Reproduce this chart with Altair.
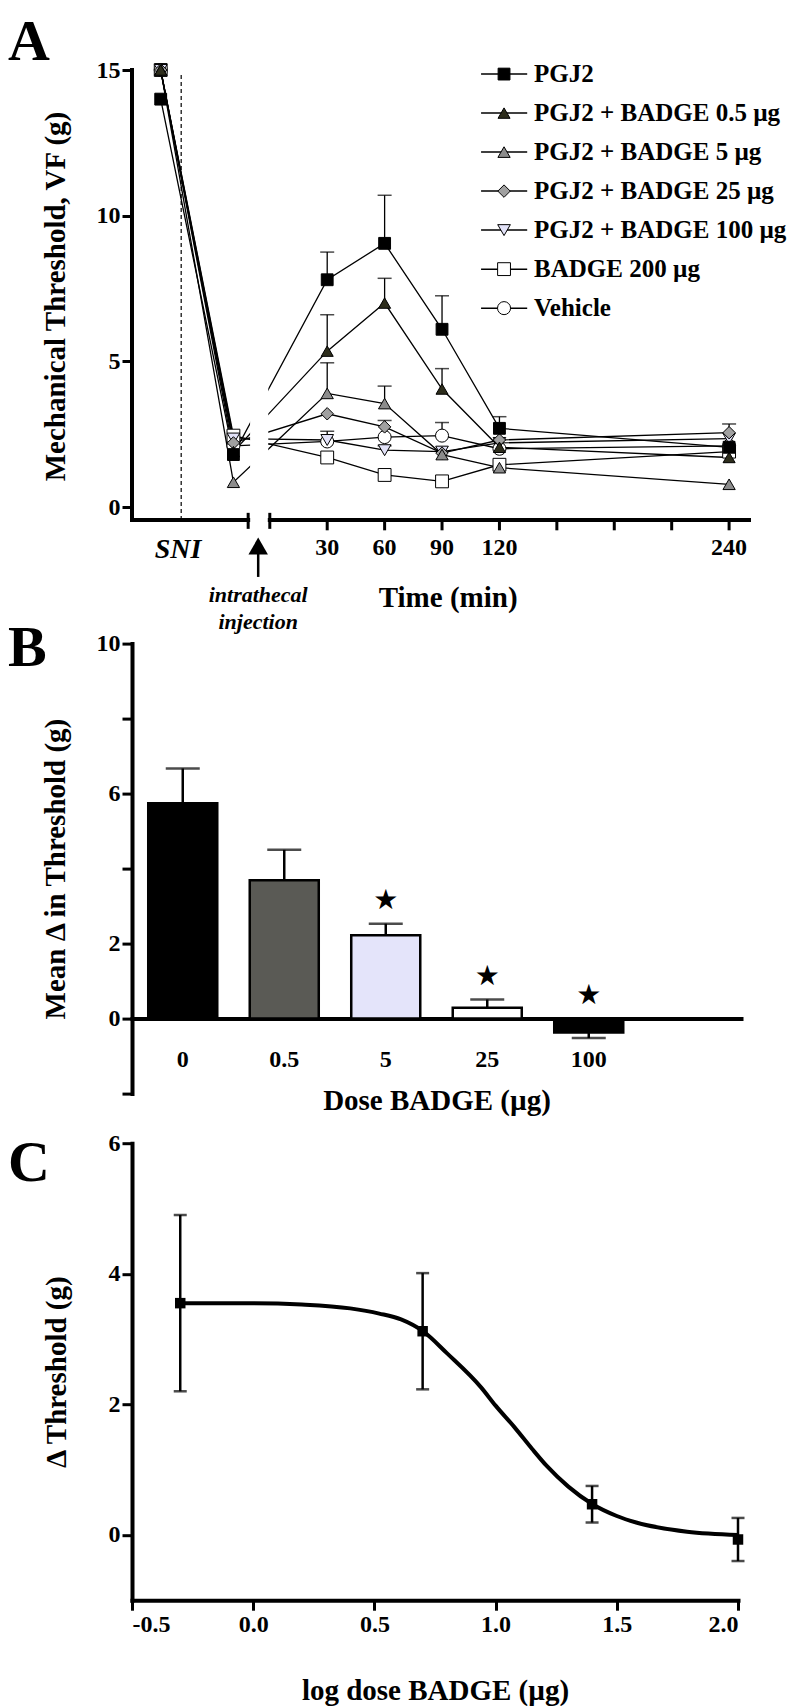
import altair as alt
import pandas as pd

FONT = "Liberation Serif"

# ---------------- Panel A : time course ----------------
series_names = ["PGJ2", "PGJ2 + BADGE 0.5 µg", "PGJ2 + BADGE 5 µg", "PGJ2 + BADGE 25 µg",
                "PGJ2 + BADGE 100 µg", "BADGE 200 µg", "Vehicle"]
series_shapes = ["square", "triangle-up", "triangle-up", "diamond", "triangle-down", "square", "circle"]
series_fills = ["#000000", "#2d2d1c", "#8c8c8c", "#a0a0a0", "#e2e2f8", "#ffffff", "#ffffff"]
series_sizes = [140, 170, 170, 180, 170, 140, 130]

# baseline and post-SNI readings sit on the left part of the broken time axis
time_pos = [-57, -19, 30, 60, 90, 120, 240]
tick_times = [30, 60, 90, 120, 150, 180, 210, 240]
tick_labels = [30, 60, 90, 120, 240]

pgj2 = [14.0, 1.8, 7.8, 9.05, 6.1, 2.7, 2.05]
pgj2_sem = [0, 0, 0.95, 1.65, 1.15, 0.4, 0]
badge05 = [15.0, 1.9, 5.35, 7.0, 4.05, 2.05, 1.7]
badge05_sem = [0, 0, 1.25, 0.85, 0.7, 0, 0]
badge5 = [15.0, 0.85, 3.9, 3.55, 1.8, 1.35, 0.78]
badge5_sem = [0, 0, 1.05, 0.6, 0, 0, 0]
badge25 = [15.0, 2.2, 3.2, 2.75, 1.85, 2.3, 2.55]
badge25_sem = [0, 0, 0, 0.22, 0, 0, 0.3]
badge100 = [15.0, 2.35, 2.3, 1.95, 1.9, 2.2, 2.35]
badge100_sem = [0, 0, 0.3, 0.15, 0, 0, 0]
badge200 = [15.0, 2.45, 1.7, 1.1, 0.88, 1.45, 1.9]
badge200_sem = [0, 0, 0, 0, 0, 0, 0]
vehicle = [15.0, 2.1, 2.25, 2.4, 2.45, 2.0, 2.1]
vehicle_sem = [0, 0, 0, 0, 0.45, 0, 0]

# ---------------- Panel B : mean change ----------------
doses_b = ["0", "0.5", "5", "25", "100"]
means_b = [5.74, 3.69, 2.22, 0.29, -0.37]
sems_b = [0.93, 0.81, 0.31, 0.22, 0.15]
sig_b = [False, False, True, True, True]
colors_b = ["#000000", "#5a5a55", "#e4e4fa", "#ffffff", "#000000"]

# ---------------- Panel C : dose response ----------------
log_dose = [-0.301, 0.699, 1.398, 2.0]
delta_c = [3.55, 3.12, 0.47, -0.07]
sem_c = [1.35, 0.89, 0.28, 0.33]
curve_x = [-0.3, 0.0, 0.2, 0.4, 0.52, 0.61, 0.7, 0.8, 0.94, 1.0, 1.08, 1.15, 1.21, 1.3, 1.4, 1.5, 1.58, 1.79, 2.0]
curve_y = [3.55, 3.55, 3.53, 3.47, 3.39, 3.30, 3.12, 2.78, 2.26, 1.98, 1.64, 1.32, 1.06, 0.74, 0.47, 0.29,
           0.19, 0.05, 0.0]

# =====================================================
means_a = [pgj2, badge05, badge5, badge25, badge100, badge200, vehicle]
sems_a = [pgj2_sem, badge05_sem, badge5_sem, badge25_sem, badge100_sem, badge200_sem, vehicle_sem]

rows = []
for k in reversed(range(len(series_names))):
    for j, t in enumerate(time_pos):
        rows.append({"series": series_names[k], "t": t, "v": means_a[k][j],
                     "sem": sems_a[k][j], "hi": means_a[k][j] + sems_a[k][j]})
df_a = pd.DataFrame(rows)

XS_A = alt.Scale(domain=[-72, 250.4], nice=False, zero=False)
YS_A = alt.Scale(domain=[-2.955, 15], nice=False, zero=False)
ya_axis = alt.Axis(values=[0, 5, 10, 15], domain=False, title="Mechanical Threshold, VF (g)",
                   titleY=226, titlePadding=26)


def xa(f):
    return alt.X(f, type="quantitative", scale=XS_A, axis=None)


def ya(f):
    return alt.Y(f, type="quantitative", scale=YS_A, axis=ya_axis)


shape_enc = alt.Shape("series:N", scale=alt.Scale(domain=series_names, range=series_shapes), legend=None)
fill_enc = alt.Fill("series:N", scale=alt.Scale(domain=series_names, range=series_fills), legend=None)
size_enc = alt.Size("series:N", scale=alt.Scale(domain=series_names, range=series_sizes), legend=None)

base_a = alt.Chart(df_a)
lines_a = base_a.mark_line(color="black", strokeWidth=1.3).encode(
    x=xa("t"), y=ya("v"), detail="series:N", order="t:Q")
sni_df = pd.DataFrame({"t": [-46.3], "y1": [-0.446], "y2": [14.83]})
sni_line = alt.Chart(sni_df).mark_rule(color="black", strokeWidth=1.2, strokeDash=[4, 3]).encode(
    x=xa("t"), y=ya("y1"), y2="y2")
mask_df = pd.DataFrame({"x1": [-10.3], "x2": [-0.8], "y1": [0.3], "y2": [5.6]})
mask = alt.Chart(mask_df).mark_rect(color="white").encode(x=xa("x1"), x2="x2", y=ya("y1"), y2="y2")
err_a = base_a.transform_filter("datum.sem > 0").mark_rule(color="black", strokeWidth=1.3).encode(
    x=xa("t"), y=ya("v"), y2="hi")
cap_a = base_a.transform_filter("datum.sem > 0").mark_point(
    shape="stroke", size=196, color="black", strokeWidth=1.5, filled=False).encode(x=xa("t"), y=ya("hi"))
pts_a = base_a.mark_point(filled=True, stroke="black", strokeWidth=1, opacity=1).encode(
    x=xa("t"), y=ya("v"), shape=shape_enc, fill=fill_enc, size=size_enc)

axis_df = pd.DataFrame({
    "x1": [-72, -72, 0], "x2": [-72, -11.3, 250.4],
    "y1": [-0.446, -0.446, -0.446], "y2": [15, -0.446, -0.446]})
axis_lines = alt.Chart(axis_df).mark_rule(color="black", strokeWidth=4, strokeCap="square").encode(
    x=xa("x1"), x2="x2", y=ya("y1"), y2="y2")
brk_df = pd.DataFrame({"x": [-11.3, 0], "y1": [-0.2, -0.2], "y2": [-0.75, -0.75]})
brk = alt.Chart(brk_df).mark_rule(color="black", strokeWidth=3).encode(x=xa("x"), y=ya("y1"), y2="y2")
tick_df = pd.DataFrame({"x": tick_times})
ticks_a = alt.Chart(tick_df).transform_calculate(y1="-0.446", y2="-0.8").mark_rule(
    color="black", strokeWidth=3).encode(x=xa("x"), y=ya("y1:Q"), y2="y2:Q")
tl_df = pd.DataFrame({"x": tick_labels, "lab": [str(v) for v in tick_labels]})
tick_text = alt.Chart(tl_df).transform_calculate(y="-1.41").mark_text(
    font=FONT, fontWeight="bold", fontSize=24, baseline="middle", color="black").encode(
    x=xa("x"), y=ya("y:Q"), text="lab:N")

ann_df = pd.DataFrame({"x": [-47.9], "y": [-1.48], "txt": ["SNI"]})
sni_text = alt.Chart(ann_df).mark_text(font=FONT, fontWeight="bold", fontStyle="italic", fontSize=28,
                                       color="black").encode(x=xa("x"), y=ya("y"), text="txt:N")
inj_df = pd.DataFrame({"x": [-6.06, -6.06], "y": [-3.02, -3.95], "txt": ["intrathecal", "injection"]})
inj_text = alt.Chart(inj_df).mark_text(font=FONT, fontWeight="bold", fontStyle="italic", fontSize=22,
                                       color="black").encode(x=xa("x"), y=ya("y"), text="txt:N")
arrow_df = pd.DataFrame({"x": [-6.06], "y1": [-1.5], "y2": [-2.4], "yh": [-1.34]})
arrow_stem = alt.Chart(arrow_df).mark_rule(color="black", strokeWidth=2.5).encode(
    x=xa("x"), y=ya("y1"), y2="y2")
arrow_head = alt.Chart(arrow_df).mark_point(shape="triangle-up", size=380, filled=True, color="black",
                                            opacity=1).encode(x=xa("x"), y=ya("yh"))
time_df = pd.DataFrame({"x": [93.2], "y": [-3.12], "txt": ["Time (min)"]})
time_text = alt.Chart(time_df).mark_text(font=FONT, fontWeight="bold", fontSize=29, color="black").encode(
    x=xa("x"), y=ya("y"), text="txt:N")

leg_df = pd.DataFrame({"series": series_names,
                       "y": [14.86 - 1.339 * i for i in range(len(series_names))]})
leg_base = alt.Chart(leg_df).transform_calculate(xl="110.4", xr="134.5", xs="122.4", xt="138.1")
leg_lines = leg_base.mark_rule(color="black", strokeWidth=1.5).encode(x=xa("xl:Q"), x2="xr:Q", y=ya("y"))
leg_pts = leg_base.mark_point(filled=True, stroke="black", strokeWidth=1, opacity=1).encode(
    x=xa("xs:Q"), y=ya("y"), shape=shape_enc, fill=fill_enc, size=size_enc)
leg_text = leg_base.mark_text(font=FONT, fontWeight="bold", fontSize=25, align="left", baseline="middle",
                              color="black").encode(x=xa("xt:Q"), y=ya("y"), text="series:N")

letter_a = alt.Chart(pd.DataFrame({"l": ["A"]})).mark_text(
    font=FONT, fontWeight="bold", fontSize=58, align="left", baseline="top", color="black").encode(
    x=alt.value(-124), y=alt.value(-56), text="l:N")

panel_a = alt.layer(sni_line, lines_a, mask, err_a, cap_a, pts_a, axis_lines, brk, ticks_a, tick_text,
                    sni_text, inj_text, arrow_stem, arrow_head, time_text,
                    leg_lines, leg_pts, leg_text, letter_a).properties(width=617, height=523.1)

# ---------------- Panel B ----------------
df_b = pd.DataFrame({"dose": doses_b, "mean": means_b, "sem": sems_b, "sig": sig_b})
YS_B = alt.Scale(domain=[-2, 10], nice=False, zero=False)
xb = alt.X("dose:N", scale=alt.Scale(domain=doses_b + [" "], paddingInner=0.32, paddingOuter=0.16),
           axis=alt.Axis(orient="bottom", offset=-75, ticks=False, tickSize=0, labelAngle=0,
                         labelPadding=29, labelOverlap=False, title="Dose BADGE (µg)", titlePadding=15))
yb = alt.Y("mean:Q", scale=YS_B,
           axis=alt.Axis(values=[-2, 0, 2, 4, 6, 8, 10], title="Mean Δ in Threshold (g)", titlePadding=26,
                         labelExpr="(datum.value == 0 || datum.value == 2 || datum.value == 6 || datum.value == 10) ? datum.label : ''"))
base_b = alt.Chart(df_b).transform_calculate(
    end="datum.mean >= 0 ? datum.mean + datum.sem : datum.mean - datum.sem",
    star="(datum.mean >= 0 ? datum.mean + datum.sem : 0) + 0.6")
err_b = base_b.mark_rule(color="black", strokeWidth=2.5).encode(x=xb, y=yb, y2="end:Q")
cap_b = base_b.mark_tick(color="black", thickness=2.5, size=34).encode(
    x=xb, y=alt.Y("end:Q", scale=YS_B))
bars_b = base_b.mark_bar(stroke="black", strokeWidth=2.5).encode(
    x=xb, y=yb, fill=alt.Fill("dose:N", scale=alt.Scale(domain=doses_b, range=colors_b), legend=None))
stars_b = base_b.transform_filter("datum.sig").mark_text(
    text="★", font="DejaVu Sans", fontSize=28, baseline="middle", color="black").encode(
    x=xb, y=alt.Y("star:Q", scale=YS_B))
letter_b = alt.Chart(pd.DataFrame({"l": ["B"]})).mark_text(
    font=FONT, fontWeight="bold", fontSize=58, align="left", baseline="top", color="black").encode(
    x=alt.value(-124), y=alt.value(-24), text="l:N")
panel_b = alt.layer(err_b, cap_b, bars_b, stars_b, letter_b).properties(width=609, height=450)

# ---------------- Panel C ----------------
df_c = pd.DataFrame({"x": log_dose, "y": delta_c, "sem": sem_c})
df_curve = pd.DataFrame({"x": curve_x, "y": curve_y})
XS_C = alt.Scale(domain=[-0.5, 2.0], nice=False, zero=False)
YS_C = alt.Scale(domain=[-1, 6], nice=False, zero=False)
xc_axis = alt.Axis(values=[-0.5, 0, 0.5, 1, 1.5, 2], title="log dose BADGE  (µg)", titlePadding=40,
                   labelExpr="replace(format(datum.value, '.1f'), '\u2212', '-')")
yc_axis = alt.Axis(values=[0, 2, 4, 6], format=".0f", title="Δ Threshold (g)", titlePadding=37)
xc = alt.X("x:Q", scale=XS_C, axis=xc_axis)
yc = alt.Y("y:Q", scale=YS_C, axis=yc_axis)
curve_c = alt.Chart(df_curve).mark_line(color="black", strokeWidth=4, interpolate="monotone").encode(x=xc, y=yc)
base_c = alt.Chart(df_c).transform_calculate(lo="datum.y - datum.sem", hi="datum.y + datum.sem")
err_c = base_c.mark_rule(color="black", strokeWidth=2.5).encode(x=xc, y=alt.Y("lo:Q", scale=YS_C), y2="hi:Q")
cap_lo = base_c.mark_point(shape="stroke", size=169, color="black", strokeWidth=2.5, filled=False).encode(
    x=xc, y=alt.Y("lo:Q", scale=YS_C))
cap_hi = base_c.mark_point(shape="stroke", size=169, color="black", strokeWidth=2.5, filled=False).encode(
    x=xc, y=alt.Y("hi:Q", scale=YS_C))
pts_c = base_c.mark_point(shape="square", size=110, filled=True, color="black", opacity=1).encode(x=xc, y=yc)
letter_c = alt.Chart(pd.DataFrame({"l": ["C"]})).mark_text(
    font=FONT, fontWeight="bold", fontSize=58, align="left", baseline="top", color="black").encode(
    x=alt.value(-124), y=alt.value(-8), text="l:N")
panel_c = alt.layer(curve_c, err_c, cap_lo, cap_hi, pts_c, letter_c).properties(width=606, height=457)

chart = alt.vconcat(
    panel_a, panel_b, panel_c, spacing=49.6, bounds="flush",
    padding={"top": 6, "left": 0, "right": 0, "bottom": 0}
).resolve_scale(
    fill="independent", shape="independent", size="independent"
).configure_view(
    stroke=None
).configure_axis(
    labelFont=FONT, labelFontSize=24, labelFontWeight="bold", labelColor="black",
    titleFont=FONT, titleFontSize=29, titleFontWeight="bold", titleColor="black",
    domainColor="black", domainWidth=4, domainCap="square",
    tickColor="black", tickWidth=3, tickSize=10, labelPadding=2, grid=False
)

chart.save("out.html", embed_options={"renderer": "svg", "actions": False})
